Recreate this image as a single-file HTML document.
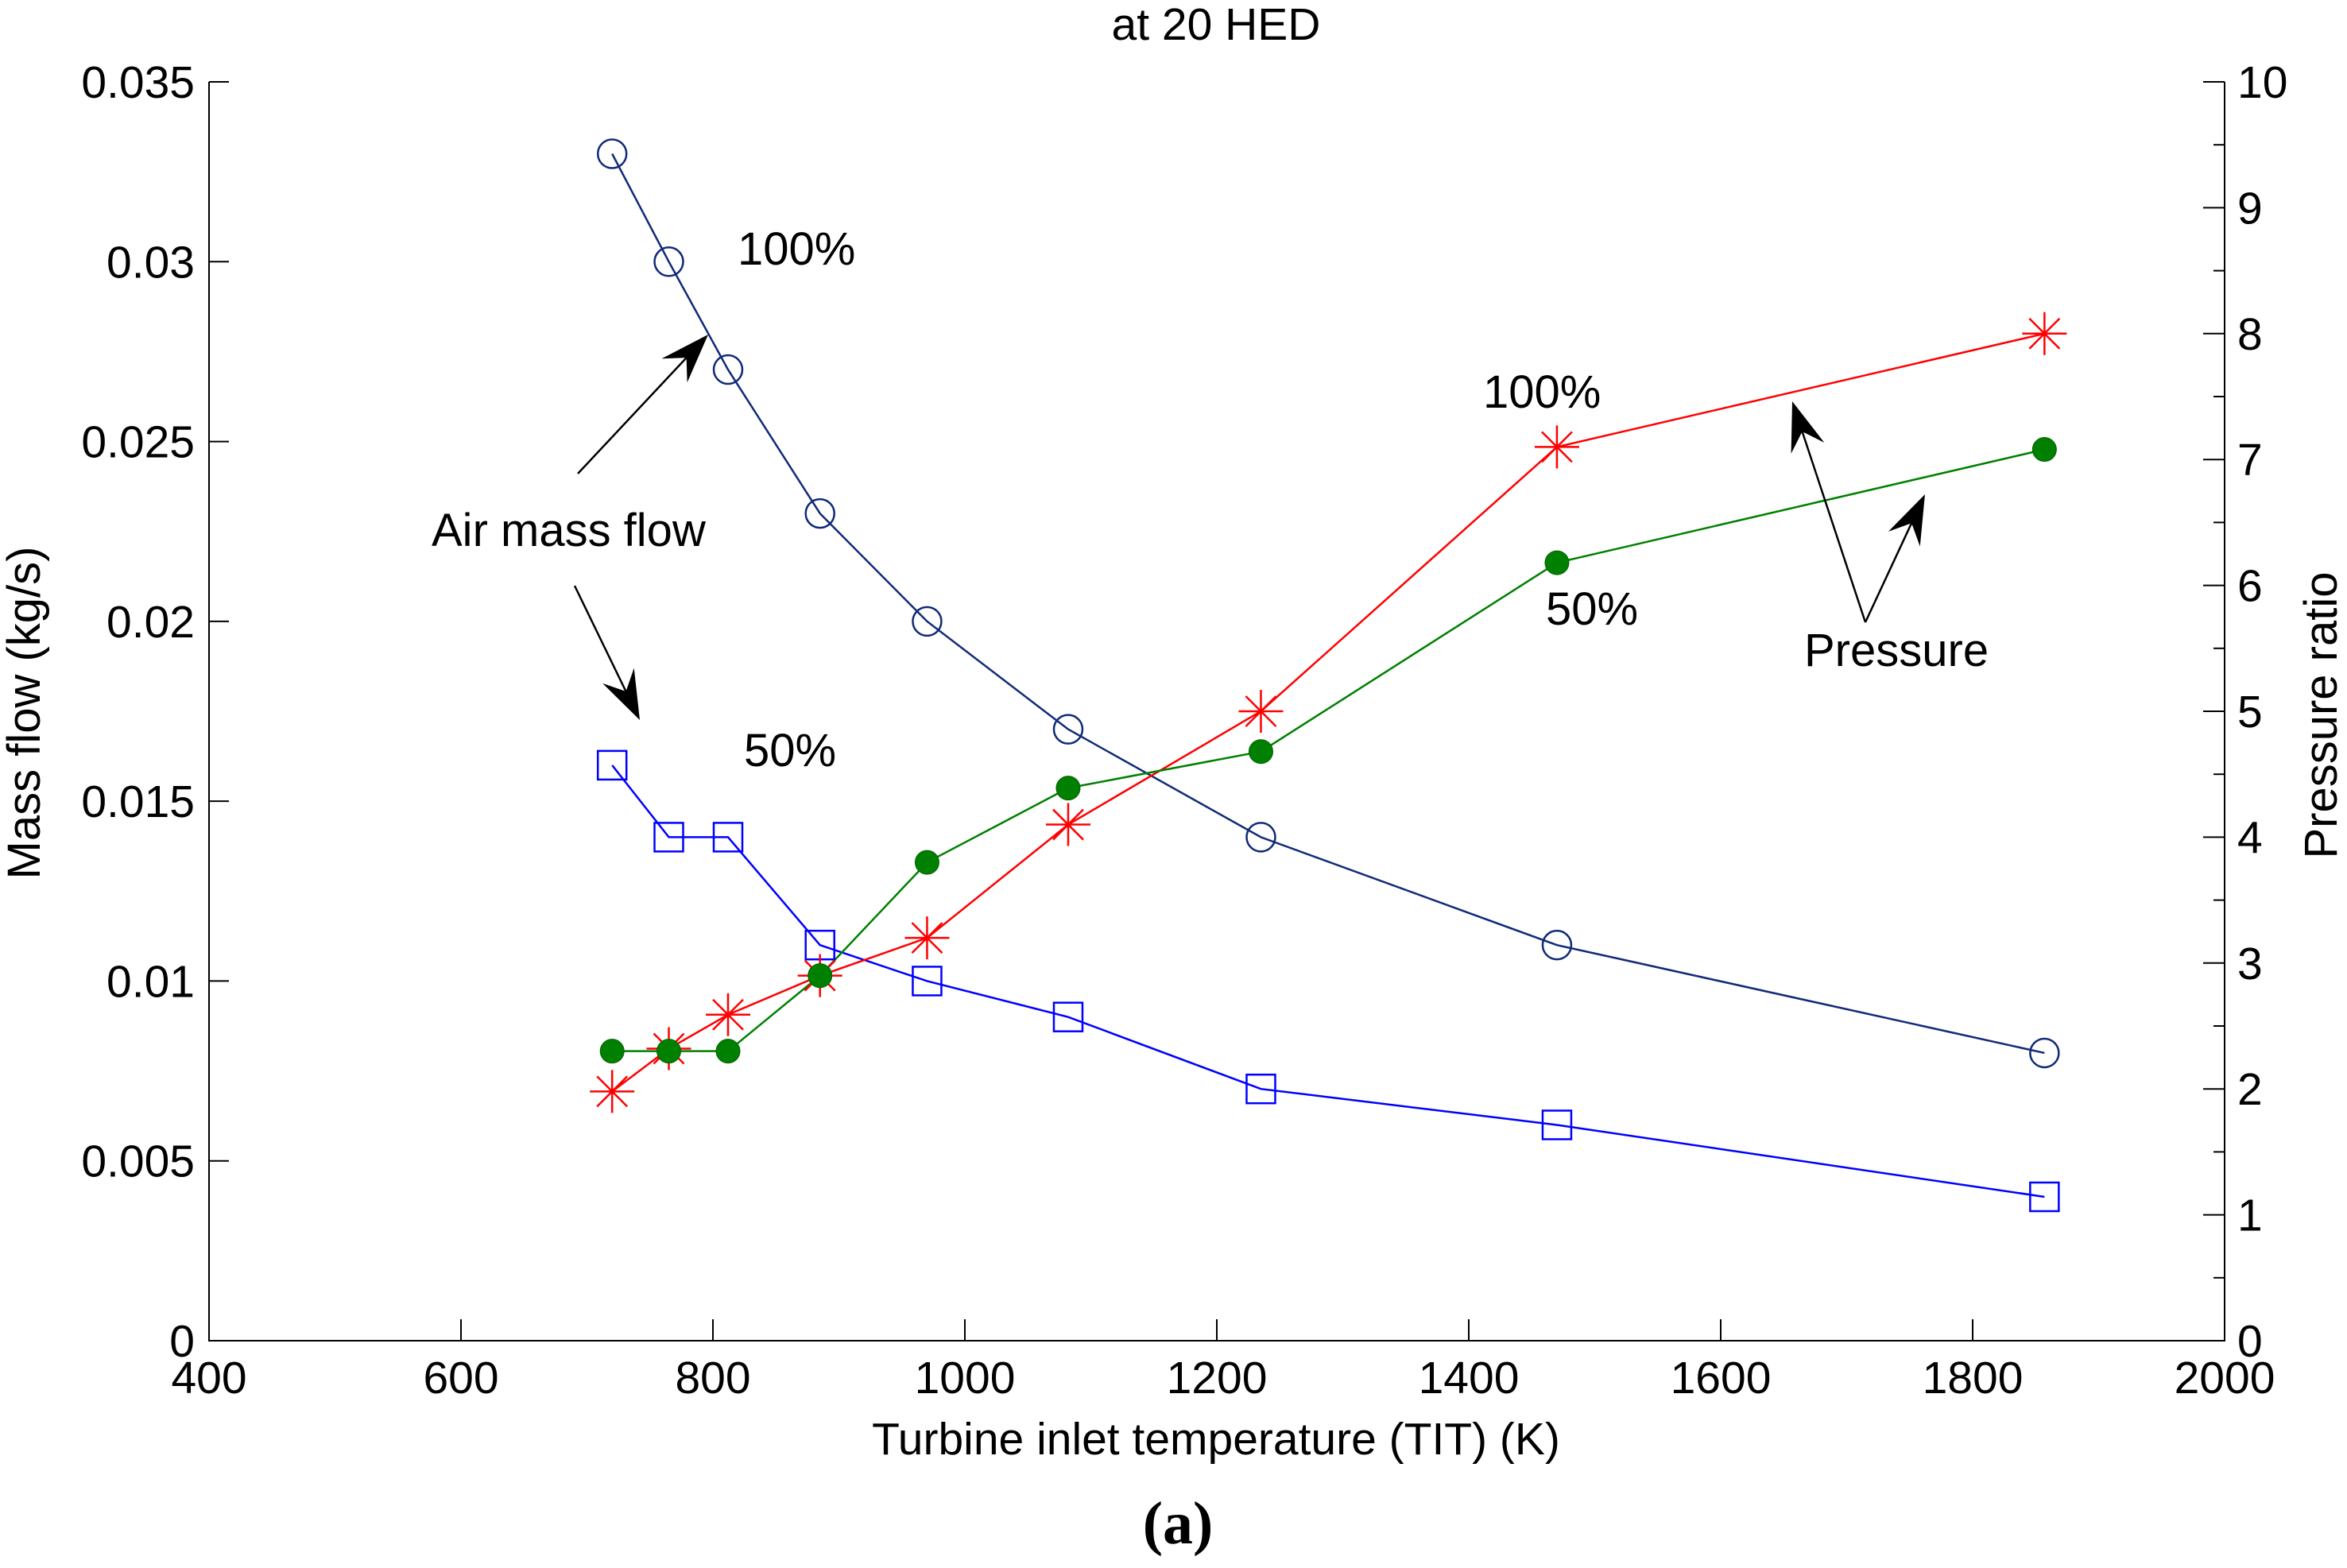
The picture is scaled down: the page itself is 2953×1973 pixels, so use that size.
<!DOCTYPE html>
<html><head><meta charset="utf-8"><style>
html,body{margin:0;padding:0;background:#fff}
svg{display:block;font-family:"Liberation Sans",sans-serif}
</style></head><body>
<svg id="chart" width="2953" height="1973" viewBox="0 0 2953 1973" xmlns="http://www.w3.org/2000/svg">
<rect width="2953" height="1973" fill="#fff"/>
<g id="axes"></g>
<g id="series"></g>
<g id="annot"></g>
<text x="1530" y="50" font-size="57" text-anchor="middle">at 20 HED</text>
<text x="1530" y="1830" font-size="57" text-anchor="middle">Turbine inlet temperature (TIT) (K)</text>
<text transform="translate(50,897) rotate(-90)" font-size="58" text-anchor="middle">Mass flow (kg/s)</text>
<text transform="translate(2940,900) rotate(-90)" font-size="58" text-anchor="middle">Pressure ratio</text>
<text x="1482" y="1942" font-size="76" font-weight="bold" font-family="Liberation Serif,serif" text-anchor="middle">(a)</text>
</svg>
<script>
const tit = [720, 765, 812, 885, 970, 1082, 1235, 1470, 1857];
const massFlow100 = [0.033, 0.030, 0.027, 0.023, 0.020, 0.017, 0.014, 0.011, 0.008];
const massFlow50 = [0.016, 0.014, 0.014, 0.011, 0.010, 0.009, 0.007, 0.006, 0.004];
const pressure100 = [1.98, 2.32, 2.59, 2.9, 3.2, 4.1, 5.0, 7.1, 8.0];
const pressure50 = [2.3, 2.3, 2.3, 2.9, 3.8, 4.39, 4.68, 6.18, 7.08];
const xTicks = [400, 600, 800, 1000, 1200, 1400, 1600, 1800, 2000];
const yLeftTicks = [0, 0.005, 0.01, 0.015, 0.02, 0.025, 0.03, 0.035];
const yLeftLabels = ["0", "0.005", "0.01", "0.015", "0.02", "0.025", "0.03", "0.035"];
const yRightTicks = [0, 1, 2, 3, 4, 5, 6, 7, 8, 9, 10];

const L=263,R=2799,T=103,B=1687;
const sx=v=>L+(v-400)/1600*(R-L);
const syL=v=>B-v/0.035*(B-T);
const syR=v=>B-v/10*(B-T);
const NS="http://www.w3.org/2000/svg";
function mk(tag,attrs,parent){const e=document.createElementNS(NS,tag);for(const k in attrs)e.setAttribute(k,attrs[k]);parent.appendChild(e);return e;}
const ax=document.getElementById('axes'), se=document.getElementById('series'), an=document.getElementById('annot');

let e=mk('path',{d:`M${L},${T}V${B}H${R}V${T}`,fill:'none',stroke:'#000','stroke-width':2},ax);


xTicks.forEach(v=>{const x=sx(v);
 let t=mk('line',{x1:x,x2:x,y1:B,y2:B-27,stroke:'#000','stroke-width':2},ax);
 
 
 let l=mk('text',{x:x,y:B+66,'font-size':57,'text-anchor':'middle'},ax);l.textContent=v;
 
 
});
yLeftTicks.forEach((v,i)=>{const y=syL(v);
 let t=mk('line',{x1:L,x2:L+25,y1:y,y2:y,stroke:'#000','stroke-width':2},ax);
 
 
 let l=mk('text',{x:L-18,y:y+20,'font-size':57,'text-anchor':'end'},ax);l.textContent=yLeftLabels[i];
 
 
});
yRightTicks.forEach(v=>{const y=syR(v);
 let t=mk('line',{x1:R,x2:R-27,y1:y,y2:y,stroke:'#000','stroke-width':2},ax);
 
 
 if(v<10){let m=mk('line',{x1:R,x2:R-14,y1:syR(v+0.5),y2:syR(v+0.5),stroke:'#000','stroke-width':2},ax);
 
 }
 let l=mk('text',{x:R+16,y:y+20,'font-size':57},ax);l.textContent=v;
 
 
});

function line(vals,sy,color,name){
 const p=mk('polyline',{points:tit.map((t,i)=>sx(t)+','+sy(vals[i])).join(' '),fill:'none',stroke:color,'stroke-width':2.5},se);
 
 
}
line(massFlow100,syL,'#102a78','mass-flow-100-line');
line(massFlow50,syL,'#0000ff','mass-flow-50-line');
line(pressure100,syR,'#ff0000','pressure-100-line');
line(pressure50,syR,'#008000','pressure-50-line');
tit.forEach((t,i)=>{const x=sx(t);
 let c=mk('circle',{cx:x,cy:syL(massFlow100[i]),r:18,fill:'none',stroke:'#102a78','stroke-width':2.5},se);
 
 
 let s=mk('rect',{x:x-18,y:syL(massFlow50[i])-18,width:36,height:36,fill:'none',stroke:'#0000ff','stroke-width':2.5},se);
 
 
 const y=syR(pressure100[i]);
 let st=mk('path',{d:`M${x-28},${y}H${x+28}M${x},${y-27}V${y+27}M${x-19},${y-19}L${x+19},${y+19}M${x-19},${y+19}L${x+19},${y-19}`,stroke:'#ff0000','stroke-width':2.5,fill:'none'},se);
 
 
 let g=mk('circle',{cx:x,cy:syR(pressure50[i]),r:15,fill:'#008000',stroke:'#006000','stroke-width':1},se);
 
 
});

function arrow(x1,y1,x2,y2,name){
 const dx=x2-x1,dy=y2-y1,len=Math.hypot(dx,dy),ux=dx/len,uy=dy/len;
 const hl=62,hw=22,bx=x2-ux*hl,by=y2-uy*hl;
 let l=mk('line',{x1:x1,y1:y1,x2:x2-ux*30,y2:y2-uy*30,stroke:'#000','stroke-width':2.5},an);
 
 
 let h=mk('polygon',{points:`${x2},${y2} ${bx-uy*hw},${by+ux*hw} ${x2-ux*40},${y2-uy*40} ${bx+uy*hw},${by-ux*hw}`,fill:'#000'},an);
 
 
}
arrow(727,596,891,421,'arrow-air-100');
arrow(723,737,805,906,'arrow-air-50');
arrow(2347,783,2255,505,'arrow-pressure-100');
arrow(2347,783,2422,622,'arrow-pressure-50');
function txt(x,y,s,name){let t=mk('text',{x:x,y:y,'font-size':58},an);t.textContent=s;
 
 }
txt(543,687,'Air mass flow','air-mass-flow-label');
txt(2270,838,'Pressure','pressure-label');
txt(928,333,'100%','mass-flow-100-label');
txt(936,964,'50%','mass-flow-50-label');
txt(1866,513,'100%','pressure-100-label');
txt(1945,786,'50%','pressure-50-label');
</script>
</body></html>
